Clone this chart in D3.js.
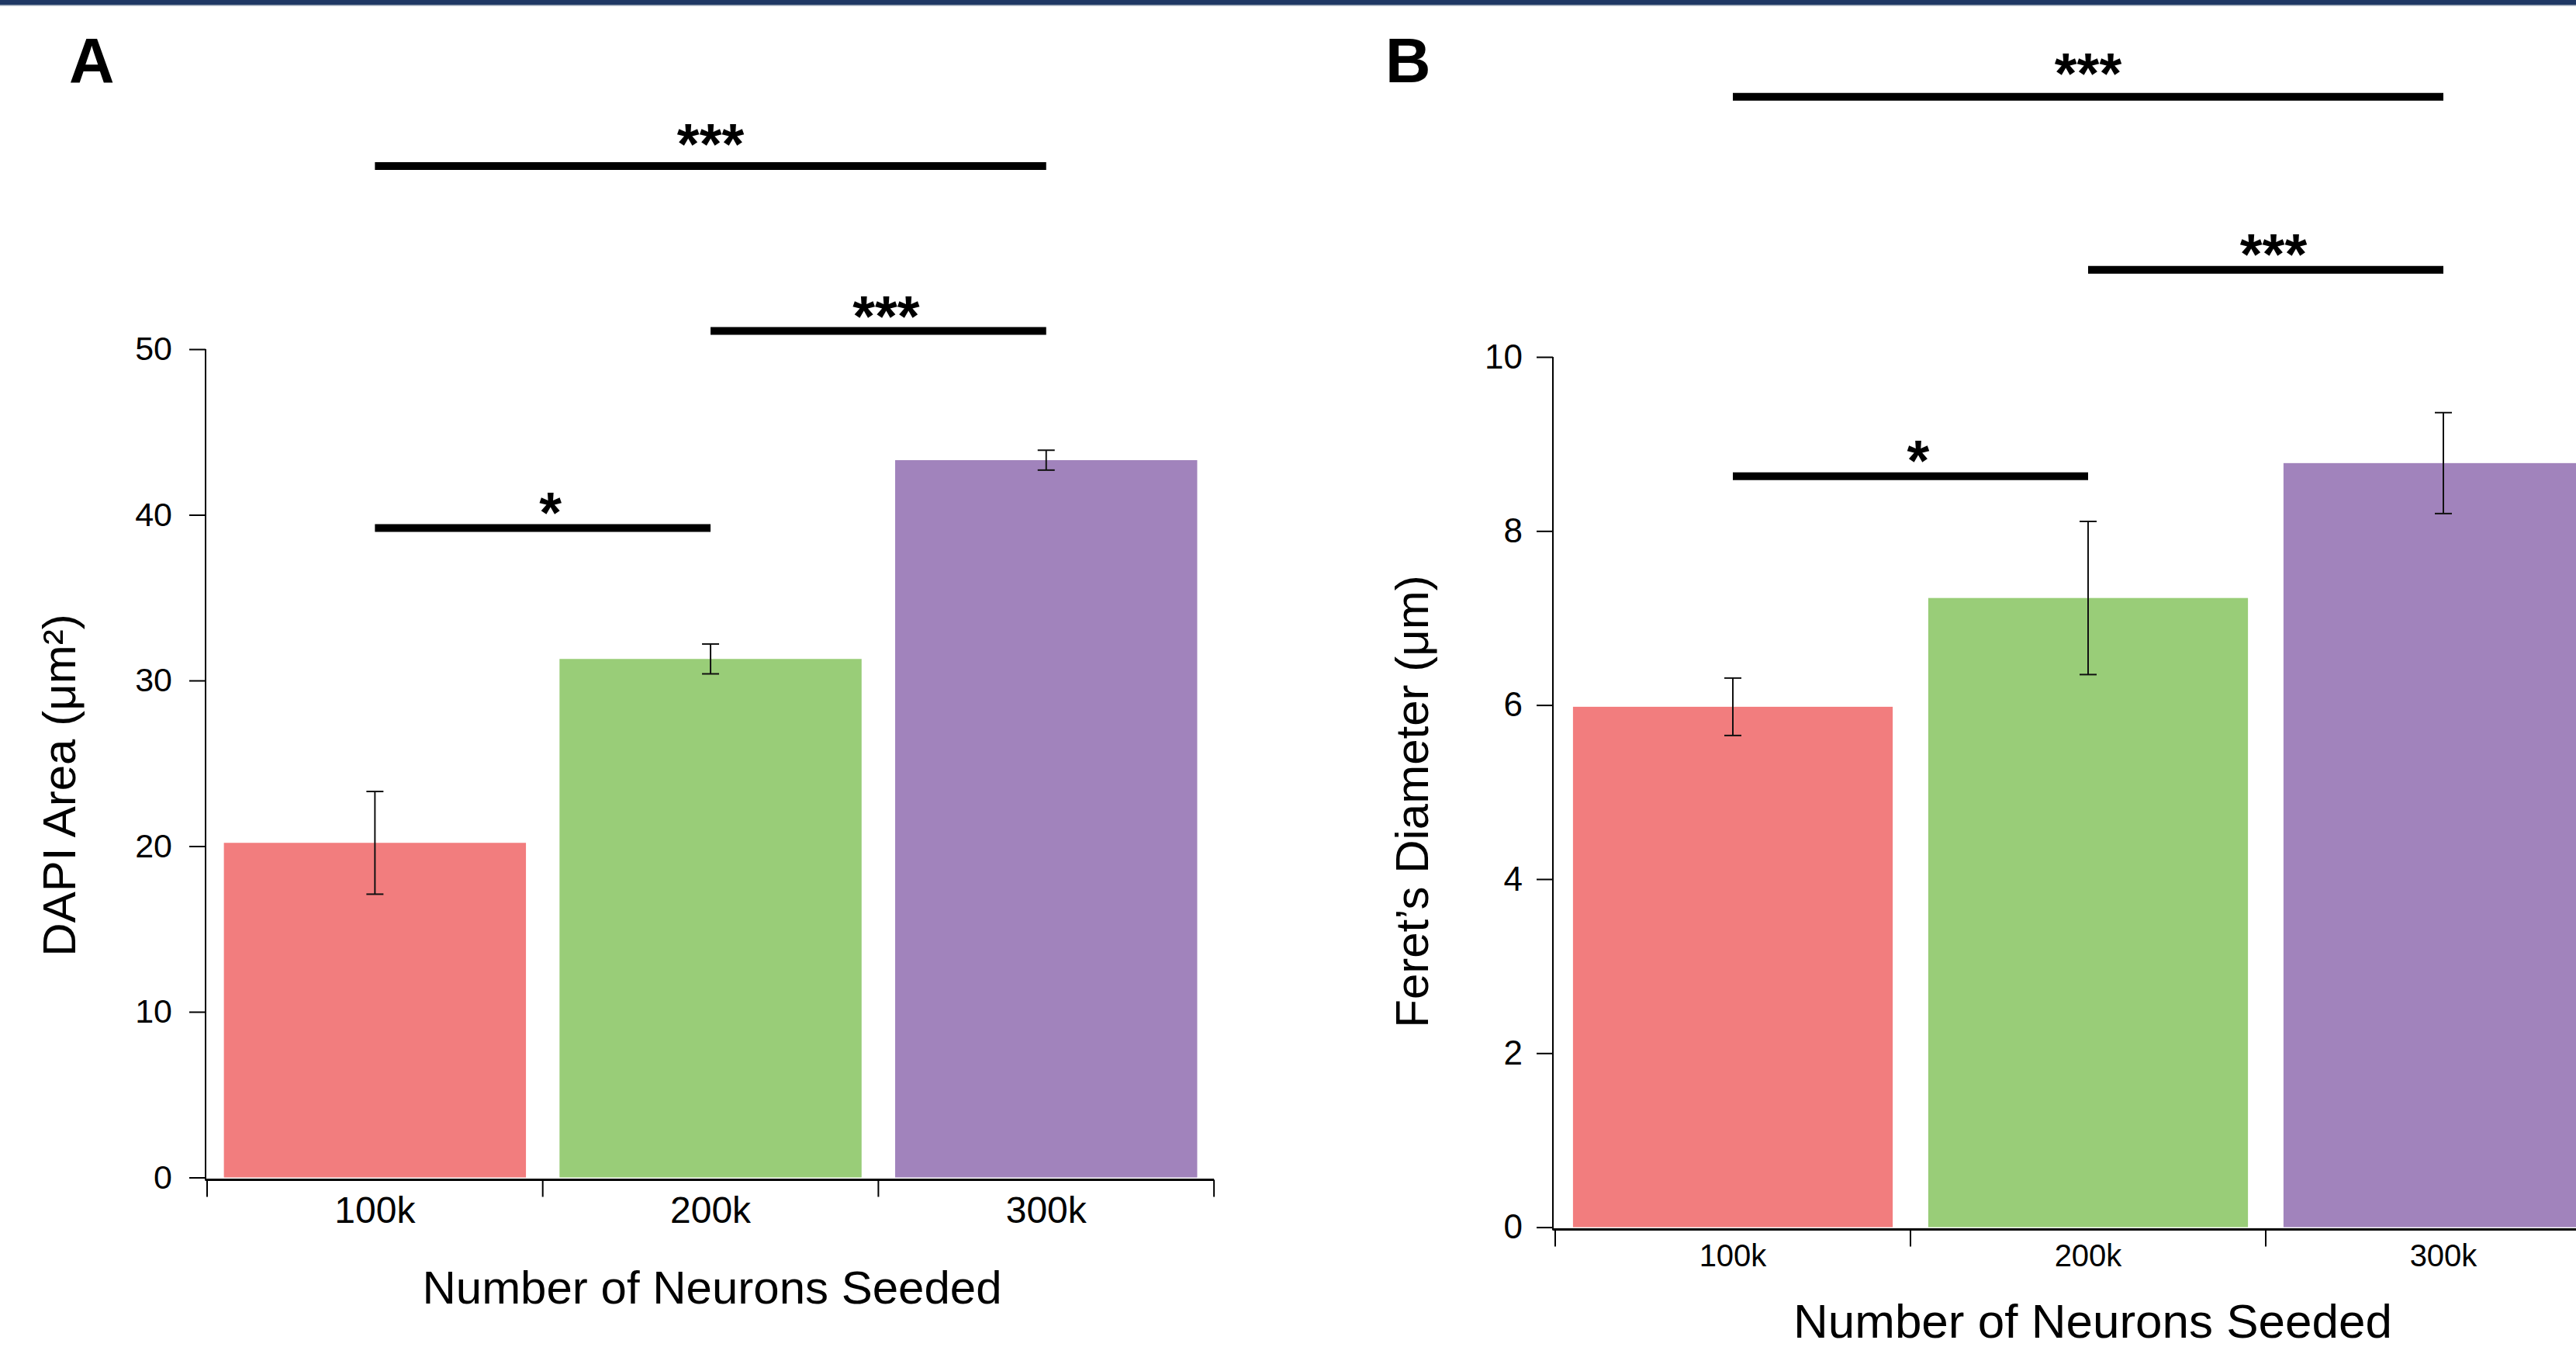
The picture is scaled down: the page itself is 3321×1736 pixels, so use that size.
<!DOCTYPE html>
<html>
<head>
<meta charset="utf-8">
<script src="https://cdn.jsdelivr.net/npm/d3@7"></script>
<style>
  html, body { margin: 0; padding: 0; background: #fff; }
  svg text { font-family: "Liberation Sans", Arial, sans-serif; fill: #000; }
</style>
</head>
<body>
<div id="chart"></div>
<script>
// values
const categories = ['100k', '200k', '300k'];
const barColors = ['#F27D7E', '#99CD78', '#A183BC'];

const dapiMean = [20.2, 31.3, 43.3];
const dapiErr = [3.1, 0.9, 0.6];
const dapiTicks = [0, 10, 20, 30, 40, 50];
// significance brackets: from bar, to bar, line level, label level (data units)
const dapiSig = [
  { a: 0, b: 2, level: 61.05, labelAt: 62.65, text: '***' },
  { a: 1, b: 2, level: 51.1, labelAt: 52.25, text: '***' },
  { a: 0, b: 1, level: 39.2, labelAt: 40.4, text: '*' }
];

const feretMean = [5.98, 7.23, 8.78];
const feretErr = [0.33, 0.88, 0.58];
const feretTicks = [0, 2, 4, 6, 8, 10];
const feretSig = [
  { a: 0, b: 2, level: 12.99, labelAt: 13.31, text: '***' },
  { a: 1, b: 2, level: 11.0, labelAt: 11.23, text: '***' },
  { a: 0, b: 1, level: 8.63, labelAt: 8.86, text: '*' }
];

const W = 3321, H = 1736;
const svg = d3.select('#chart').append('svg')
  .attr('width', W).attr('height', H)
  .style('display', 'block');

// header band
svg.append('rect').attr('x', 0).attr('y', 0).attr('width', W).attr('height', 6).attr('fill', '#1F3864');
svg.append('rect').attr('x', 0).attr('y', 6).attr('width', W).attr('height', 1.5).attr('fill', '#8a97ab');

function panel(opt) {
  const g = svg.append('g');
  const y = d3.scaleLinear().domain([0, d3.max(opt.ticks)]).range([opt.y0, opt.yTop]);
  const x = d3.scaleBand().domain(categories)
    .range([opt.xLeft, opt.xLeft + 3 * opt.step])
    .paddingInner(0.1).paddingOuter(0.05);

  // letter
  g.append('text').attr('x', opt.letterX).attr('y', 106)
    .style('font-size', '81px').style('font-weight', 'bold').text(opt.letter);

  // bars
  g.selectAll('rect.bar').data(opt.mean).enter().append('rect')
    .attr('class', 'bar')
    .attr('x', (d, i) => x(categories[i]))
    .attr('width', x.bandwidth())
    .attr('y', d => y(d))
    .attr('height', d => y(0) - y(d))
    .attr('fill', (d, i) => barColors[i]);

  // error bars
  const cx = i => x(categories[i]) + x.bandwidth() / 2;
  const eb = g.selectAll('g.err').data(opt.mean).enter().append('g').attr('class', 'err')
    .attr('stroke', '#111').attr('stroke-width', 2);
  eb.append('line').attr('x1', (d, i) => cx(i)).attr('x2', (d, i) => cx(i))
    .attr('y1', (d, i) => y(d + opt.err[i])).attr('y2', (d, i) => y(d - opt.err[i]));
  eb.append('line').attr('x1', (d, i) => cx(i) - 11).attr('x2', (d, i) => cx(i) + 11)
    .attr('y1', (d, i) => y(d + opt.err[i])).attr('y2', (d, i) => y(d + opt.err[i]));
  eb.append('line').attr('x1', (d, i) => cx(i) - 11).attr('x2', (d, i) => cx(i) + 11)
    .attr('y1', (d, i) => y(d - opt.err[i])).attr('y2', (d, i) => y(d - opt.err[i]));

  // y axis
  const xAxisY = y(0) + 3;
  const ya = g.append('g').attr('transform', `translate(${opt.axisX},0)`)
    .call(d3.axisLeft(y).tickValues(opt.ticks).tickSize(21).tickPadding(opt.tickPad));
  ya.select('.domain').remove();
  ya.selectAll('line').attr('stroke', '#000').attr('stroke-width', 2);
  ya.selectAll('text').style('font-size', opt.yTickFont + 'px')
    .style('font-family', '"Liberation Sans", Arial, sans-serif').attr('fill', '#000');
  g.append('line').attr('x1', opt.axisX).attr('x2', opt.axisX)
    .attr('y1', y(d3.max(opt.ticks))).attr('y2', xAxisY + 1)
    .attr('stroke', '#000').attr('stroke-width', 2);

  // x axis
  const xEnd = opt.xLeft + 3 * opt.step;
  g.append('line').attr('x1', opt.axisX).attr('x2', xEnd)
    .attr('y1', xAxisY).attr('y2', xAxisY)
    .attr('stroke', '#000').attr('stroke-width', 3);
  const bounds = d3.range(categories.length + 1).map(i => opt.xLeft + i * x.step());
  g.selectAll('line.xt').data(bounds).enter().append('line').attr('class', 'xt')
    .attr('x1', d => d).attr('x2', d => d)
    .attr('y1', xAxisY).attr('y2', xAxisY + 22)
    .attr('stroke', '#000').attr('stroke-width', 2);
  g.selectAll('text.xl').data(categories).enter().append('text').attr('class', 'xl')
    .attr('x', d => x(d) + x.bandwidth() / 2)
    .attr('y', opt.xTickBase)
    .attr('text-anchor', 'middle')
    .style('font-size', opt.xTickFont + 'px')
    .text(d => d);

  // axis titles
  g.append('text')
    .attr('x', opt.xTitleX).attr('y', opt.xTitleBase)
    .attr('text-anchor', 'middle')
    .style('font-size', opt.xTitleFont + 'px')
    .text('Number of Neurons Seeded');
  g.append('text')
    .attr('transform', `translate(${opt.yTitleX},${opt.yTitleY}) rotate(-90)`)
    .attr('text-anchor', 'middle')
    .style('font-size', '60px')
    .text(opt.yTitle);

  // significance brackets
  g.selectAll('line.sig').data(opt.sig).enter().append('line').attr('class', 'sig')
    .attr('x1', d => cx(d.a)).attr('x2', d => cx(d.b))
    .attr('y1', d => y(d.level)).attr('y2', d => y(d.level))
    .attr('stroke', '#000').attr('stroke-width', 10);
  // labels over the short brackets sit a little right of centre in the original
  g.selectAll('text.sig').data(opt.sig).enter().append('text').attr('class', 'sig')
    .attr('x', d => (cx(d.a) + cx(d.b)) / 2 + (d.b - d.a === 1 ? 10 : 0))
    .attr('y', d => y(d.labelAt) + 31)
    .attr('text-anchor', 'middle')
    .style('font-size', '74px').style('font-weight', 'bold')
    .text(d => d.text);
}

panel({
  letter: 'A', letterX: 89,
  mean: dapiMean, err: dapiErr, ticks: dapiTicks, sig: dapiSig,
  y0: 1517.5, yTop: 450,
  axisX: 265, xLeft: 267, step: 432.7,
  tickPad: 22, yTickFont: 43,
  xTickFont: 48, xTickBase: 1576,
  xTitleX: 918, xTitleBase: 1680, xTitleFont: 60,
  yTitle: 'DAPI Area (μm²)', yTitleX: 97, yTitleY: 1012
});

panel({
  letter: 'B', letterX: 1786,
  mean: feretMean, err: feretErr, ticks: feretTicks, sig: feretSig,
  y0: 1581.6, yTop: 460,
  axisX: 2002, xLeft: 2005, step: 458,
  tickPad: 18, yTickFont: 44,
  xTickFont: 40, xTickBase: 1632,
  xTitleX: 2698, xTitleBase: 1724, xTitleFont: 62,
  yTitle: 'Feret’s Diameter (μm)', yTitleX: 1841, yTitleY: 1033
});
</script>
</body>
</html>
